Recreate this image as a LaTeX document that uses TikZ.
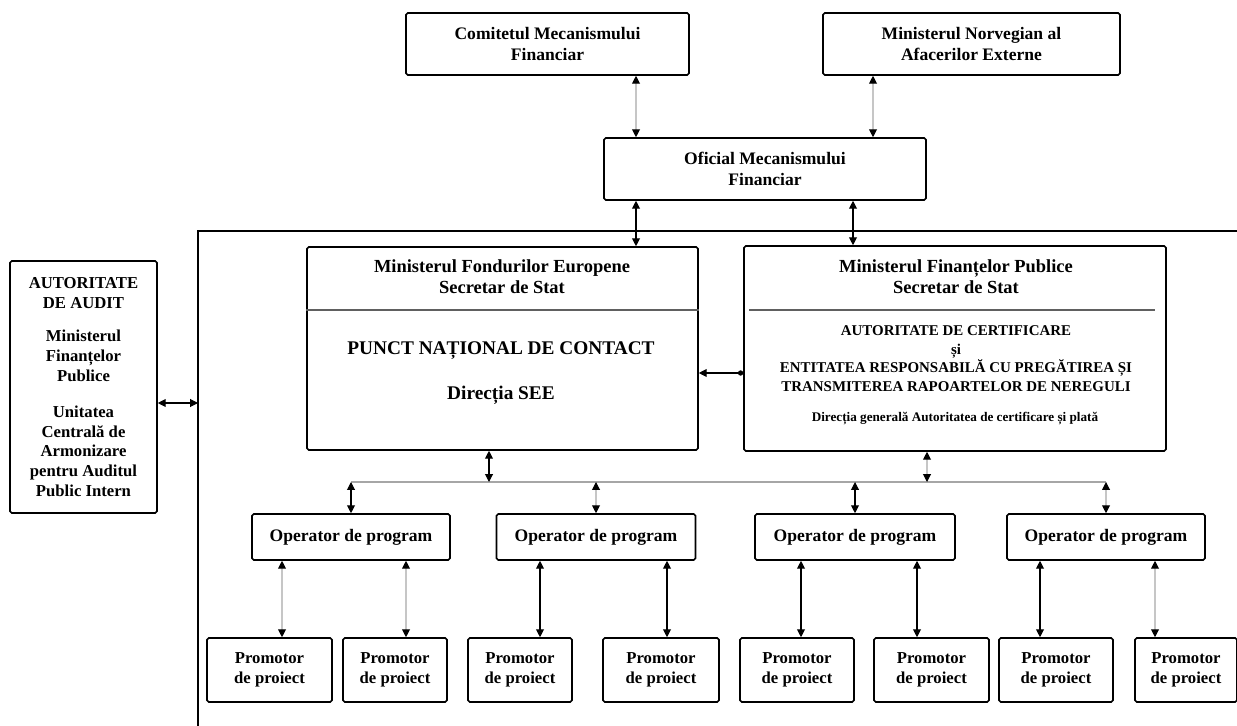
\documentclass[tikz,border=0pt]{standalone}
\usepackage{fontspec}
\setmainfont{Liberation Serif}
\usepackage{tikz}
\usetikzlibrary{calc,arrows.meta}

\begin{document}
\begin{tikzpicture}[
  x=0.02cm, y=-0.02cm,
  >={Triangle[length=4.5pt,width=4.5pt]},
  box/.style={draw,line width=0.9pt,rounded corners=1pt,inner sep=2pt,align=center,
    font=\bfseries\fontsize{10}{11.5}\selectfont},
  txt/.style={align=center,inner sep=0pt,font=\bfseries\fontsize{#1}{12}\selectfont},
  txt/.default=10.5,
  con/.style={<->,line width=0.6pt},
  lcon/.style={<->,line width=0.6pt,draw=gray!45,>={Triangle[length=4.5pt,width=4.5pt,color=black]}},
  bus/.style={line width=1.3pt,draw=gray!70},
  sep/.style={line width=1.4pt,draw=gray!75!black}
  ]
\def\px{0.02cm}
\useasboundingbox (0,0) rectangle (1237,726);
% top level
\node[box,minimum width=283*\px,minimum height=62*\px] (cmf) at (547.5,44) {Comitetul Mecanismului\\Financiar};
\node[box,minimum width=297*\px,minimum height=62*\px] (mnae) at (971.5,44) {Ministerul Norvegian al\\Afacerilor Externe};
\node[box,minimum width=322*\px,minimum height=62*\px] (omf) at (765,169) {Oficial Mecanismului\\Financiar};
% frame, open to the right and below
\draw[line width=0.9pt] (198,726) -- (198,231) -- (1237,231);
% audit
\node[box,minimum width=147*\px,minimum height=252*\px,font=\bfseries\fontsize{9.5}{11.3}\selectfont] (aa) at (83.5,387)
  {AUTORITATE\\DE AUDIT\\[8pt]Ministerul\\Finanțelor\\Publice\\[9pt]Unitatea\\Centrală de\\Armonizare\\pentru Auditul\\Public Intern};
% the two ministries
\node[box,minimum width=391*\px,minimum height=203*\px] (mfe) at (502.5,348.5) {};
\node[box,minimum width=422*\px,minimum height=205*\px] (mfp) at (955,348.5) {};
\node[txt] (mfet) at (502,276.5) {Ministerul Fondurilor Europene\\Secretar de Stat};
\node[txt=11] (pnc) at (501,351) {PUNCT NAȚIONAL DE CONTACT};
\node[txt=11] (dsee) at (501,395) {Direcția SEE};
\node[txt] (mfpt) at (956,277) {Ministerul Finanțelor Publice\\Secretar de Stat};
\node[txt=8.5,font=\bfseries\fontsize{8.5}{10.5}\selectfont] (acert) at (956,358.5)
  {AUTORITATE DE CERTIFICARE\\și\\ENTITATEA RESPONSABILĂ CU PREGĂTIREA ȘI\\TRANSMITEREA RAPOARTELOR DE NEREGULI};
\node[txt=7.5] (dgac) at (955,419) {Direcția generală Autoritatea de certificare și plată};
\draw[sep] ([yshift=-1.28cm]mfe.north west) -- ([yshift=-1.28cm]mfe.north east);
\draw[sep] ([xshift=0.12cm,yshift=-1.3cm]mfp.north west) -- ([xshift=-0.24cm,yshift=-1.3cm]mfp.north east);
% operators and promoters
\foreach \i/\x/\w in {1/351/198, 2/596/199, 3/855/200, 4/1106/198}
  \node[box,minimum width=\w*\px,minimum height=46*\px] (op\i) at (\x,537) {Operator de program};
\foreach \i/\x/\w in {1/269.5/125, 2/395/104, 3/520/104, 4/661/116, 5/797/114, 6/931.5/115, 7/1056/114, 8/1186/102}
  \node[box,minimum width=\w*\px,minimum height=64*\px,font=\bfseries\fontsize{9.5}{11.3}\selectfont] (pr\i) at (\x,670) {Promotor\\de proiect};
% connectors
\coordinate (v1) at (636,0);
\coordinate (v2) at (873,0);
\coordinate (v3) at (853,0);
\coordinate (r1) at (489,0);
\coordinate (r2) at (927,0);
\coordinate (bus) at (0,482);
\coordinate (h1) at (0,373);
\coordinate (fl) at (198,403);
\draw[lcon] (cmf.south -| v1) -- (omf.north -| v1);
\draw[lcon] (mnae.south -| v2) -- (omf.north -| v2);
\draw[con] (omf.south -| v1) -- (mfe.north -| v1);
\draw[con] (omf.south -| v3) -- (mfp.north -| v3);
\draw[con] (aa.east |- fl) -- (fl);
\draw[{Circle[length=3pt]}->,line width=0.6pt] (mfp.west |- h1) -- (mfe.east |- h1);
\draw[bus] (op1.north |- bus) -- (op4.north |- bus);
\draw[con] (mfe.south -| r1) -- (bus -| r1);
\draw[lcon] (mfp.south -| r2) -- (bus -| r2);
\foreach \i/\s in {1/con, 2/lcon, 3/con, 4/lcon}
  \draw[\s] (op\i.north |- bus) -- (op\i.north);
\foreach \p/\o/\dx/\s in {1/1/-69/lcon, 2/1/55/lcon, 3/2/-56/con, 4/2/71/con, 5/3/-54/con, 6/3/62/con, 7/4/-66/con, 8/4/49/lcon}{
  \coordinate (t) at ($(op\o.south)+(\dx,0)$);
  \draw[\s] (t) -- (t |- pr\p.north);
}
\end{tikzpicture}
\end{document}
